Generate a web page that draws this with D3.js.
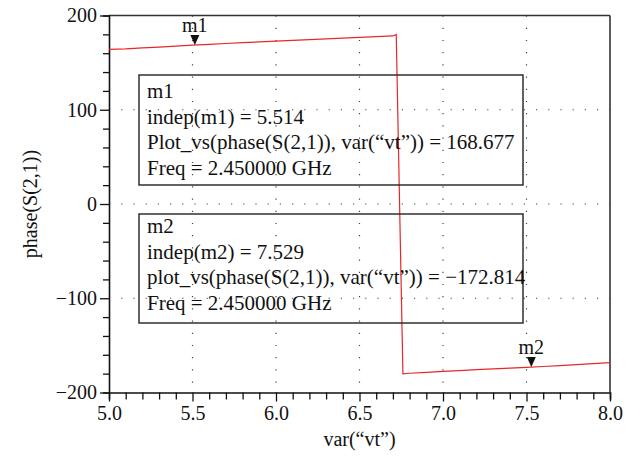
<!DOCTYPE html>
<html><head><meta charset="utf-8">
<script src="https://cdn.jsdelivr.net/npm/d3@7"></script>
</head>
<body style="margin:0"><svg id="c" width="643" height="463"></svg>
<script>
// Data
const vtUpper = [5.0, 5.1, 5.2, 5.3, 5.4, 5.5, 5.6, 5.7, 5.8, 5.9, 6.0, 6.1, 6.2, 6.3, 6.4, 6.5, 6.6, 6.7, 6.72];
const phaseUpper = [164.0, 164.6, 165.6, 166.5, 167.6, 168.6, 169.4, 170.3, 171.2, 172.0, 172.8, 173.6, 174.4, 175.2, 176.0, 176.8, 177.6, 178.3, 180.0];
const vtLower = [6.76, 6.8, 6.9, 7.0, 7.1, 7.2, 7.3, 7.4, 7.5, 7.6, 7.7, 7.8, 7.9, 8.0];
const phaseLower = [-180.2, -179.6, -178.6, -177.6, -176.7, -175.8, -175.0, -174.2, -173.3, -172.4, -171.4, -170.4, -169.3, -168.2];
const xTicks = [5.0, 5.5, 6.0, 6.5, 7.0, 7.5, 8.0];
const yTicks = [200, 100, 0, -100, -200];
const markerNames = ["m1", "m2"];
const markerX = [5.514, 7.529];
const markerY = [168.677, -172.814];
const box1Lines = ["m1", "indep(m1) = 5.514", "Plot_vs(phase(S(2,1)), var(“vt”)) = 168.677", "Freq = 2.450000 GHz"];
const box2Lines = ["m2", "indep(m2) = 7.529", "plot_vs(phase(S(2,1)), var(“vt”)) = −172.814", "Freq = 2.450000 GHz"];

const FONT = "'Liberation Serif', 'Times New Roman', serif";
const svg = d3.select("#c");
const L = 109, R = 610, T = 15.5, B = 392.5;
const x = d3.scaleLinear().domain([5, 8]).range([L, R]);
const y = d3.scaleLinear().domain([-200, 200]).range([B, T]);

function txt(sel, size) { return sel.style("font-family", FONT).style("font-size", size + "px").style("fill", "#111"); }

// grid
const g = svg.append("g");
g.selectAll(".gx").data(xTicks.filter(d => d > 5 && d < 8)).enter().append("line")
  .attr("x1", d => x(d)).attr("x2", d => x(d)).attr("y1", T).attr("y2", B)
  .attr("stroke", "#444").attr("stroke-width", 1.2).attr("stroke-dasharray", "1.2,11");
g.selectAll(".gy").data(yTicks.filter(d => d > -200 && d < 200)).enter().append("line")
  .attr("x1", L).attr("x2", R).attr("y1", d => y(d)).attr("y2", d => y(d))
  .attr("stroke", "#444").attr("stroke-width", 1.2).attr("stroke-dasharray", "1.2,11");

// frame top and right
svg.append("line").attr("x1", L).attr("x2", R).attr("y1", T).attr("y2", T).attr("stroke", "#333").attr("stroke-width", 1.6);
svg.append("line").attr("x1", R).attr("x2", R).attr("y1", T).attr("y2", B).attr("stroke", "#333").attr("stroke-width", 1.6);

// axes
const xAxis = d3.axisBottom(x).tickValues(d3.range(50, 81).map(d => d / 10)).tickSize(7)
  .tickFormat(d => xTicks.some(t => Math.abs(t - d) < 1e-9) ? d3.format(".1f")(d) : "");
const gx = svg.append("g").attr("transform", `translate(0,${B})`).call(xAxis);
gx.attr("font-family", null);
gx.selectAll(".tick line").attr("y2", (d) => xTicks.some(t => Math.abs(t - d) < 1e-9) ? 9 : 7);
txt(gx.selectAll("text"), 20).attr("dy", "0.9em").attr("y", 9);
const yAxis = d3.axisLeft(y).tickValues(d3.range(-200, 201, 20)).tickSize(6)
  .tickFormat(d => yTicks.includes(d) ? d3.format("")(d) : "");
const gy = svg.append("g").attr("transform", `translate(${L},0)`).call(yAxis);
gy.attr("font-family", null);
gy.selectAll(".tick line").attr("x2", d => yTicks.includes(d) ? -9 : -6);
txt(gy.selectAll("text"), 20).attr("x", -12);
[gx, gy].forEach(a => {
  a.select(".domain").attr("stroke", "#111").attr("stroke-width", 1.6);
  a.selectAll(".tick line").attr("stroke", "#111").attr("stroke-width", 1.3);
});

// axis titles
txt(svg.append("text"), 20).attr("x", x(6.5)).attr("y", 446).attr("text-anchor", "middle").text("var(“vt”)");
txt(svg.append("text"), 20).attr("transform", `translate(37,${y(0)}) rotate(-90)`).attr("text-anchor", "middle").text("phase(S(2,1))");

// line
const line = d3.line().x(d => x(d[0])).y(d => y(d[1]));
const pts = vtUpper.map((v, i) => [v, phaseUpper[i]]).concat(vtLower.map((v, i) => [v, phaseLower[i]]));
svg.append("path").datum(pts).attr("d", line).attr("fill", "none").attr("stroke", "#e8262b").attr("stroke-width", 1.2);

// text boxes
function box(lines, x0, y0, w, h, base0) {
  svg.append("rect").attr("x", x0).attr("y", y0).attr("width", w).attr("height", h)
    .attr("fill", "none").attr("stroke", "#222").attr("stroke-width", 1.4);
  lines.forEach((t, i) => txt(svg.append("text"), 21).attr("x", x0 + 8).attr("y", base0 + i * 25.5).text(t));
}
box(box1Lines, 139, 75, 384, 110, 98);
box(box2Lines, 139, 214, 384, 109, 233);

// markers
markerNames.forEach((n, i) => {
  const px = x(markerX[i]), py = y(markerY[i]);
  svg.append("path").attr("d", `M${px},${py} L${px - 4.5},${py - 10} L${px + 4.5},${py - 10} Z`).attr("fill", "#111");
  txt(svg.append("text"), 20).attr("x", px).attr("y", py - 13).attr("text-anchor", "middle").text(n);
});
</script></body></html>
